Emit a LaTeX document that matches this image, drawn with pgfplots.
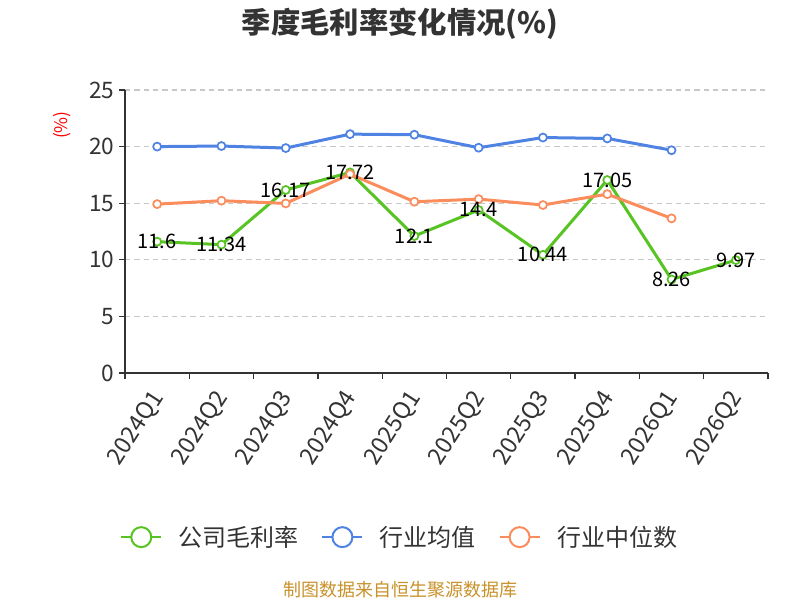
\documentclass[border=0pt]{standalone}
\usepackage{pgfplots}
\pgfplotsset{compat=1.18}
\usepackage{fontspec}
\setmainfont{Noto Sans CJK SC}
\definecolor{cgreen}{HTML}{58C424}
\definecolor{cblue}{HTML}{4F83E3}
\definecolor{corange}{HTML}{FB8C5C}
\definecolor{ctext}{HTML}{333333}
\definecolor{cgrid}{HTML}{C8C8C8}
\definecolor{csrc}{HTML}{C8912A}
\begin{document}
\begin{tikzpicture}
\begin{axis}[
  at={(93.75pt,170.25pt)}, anchor=south west,
  scale only axis, width=482.25pt, height=212.25pt,
  /pgf/number format/assume math mode=true,
  xmin=-0.5, xmax=9.5, ymin=0, ymax=25,
  axis x line*=bottom, axis y line*=left,
  axis line style={ctext, line width=1pt},
  ytick={0,5,10,15,20,25},
  xtick={0,...,9},
  xticklabels={2024Q1,2024Q2,2024Q3,2024Q4,2025Q1,2025Q2,2025Q3,2025Q4,2026Q1,2026Q2},
  minor xtick={-0.5,0.5,...,9.5},
  major x tick style={draw=none},
  x tick style={ctext, line width=1pt},
  y tick style={ctext, line width=1pt},
  tick align=outside,
  major tick length=4.5pt, minor tick length=4.5pt,
  ymajorgrids, grid style={cgrid, dashed, line width=0.8pt, dash pattern=on 4pt off 3pt},
  tick label style={font=\fontsize{17}{19}\selectfont, text=ctext},
  xticklabel style={rotate=57, anchor=east, yshift=-7pt, xshift=-5.3pt, font=\fontsize{17.5}{19}\selectfont},
  ylabel={(\%)},
  ylabel style={at={(axis description cs:-0.098,0.876)}, anchor=center, text=red, font=\fontsize{13}{15}\selectfont},
  title={\textbf{季度毛利率变化情况(\%)}},
  title style={at={(axis description cs:0.4277,1.24)}, anchor=center, yshift=-7.5pt, font=\fontsize{22}{26}\selectfont, text=ctext},
  legend columns=3,
  legend style={at={(axis description cs:0.4277,-0.58)}, anchor=center, draw=none, fill=none,
    font=\fontsize{18}{20}\selectfont, text=ctext,
    /tikz/every even column/.append style={column sep=15pt}},
  legend image code/.code={
    \draw[#1, line width=1.5pt] (0pt,0pt) -- (30pt,0pt);
    \draw[#1, line width=1.5pt, fill=white] (15pt,0pt) circle (7.5pt);
    \path (40pt,0pt);
  },
  every axis plot/.append style={line width=2.25pt, mark=*, mark size=3pt, mark options={fill=white, line width=1.3pt}},
  clip=false,
]
\addplot[cgreen] coordinates {(0,11.6)(1,11.34)(2,16.17)(3,17.72)(4,12.1)(5,14.4)(6,10.44)(7,17.05)(8,8.26)(9,9.97)};
\addlegendentry{公司毛利率}
\addplot[cblue] coordinates {(0,20.0)(1,20.05)(2,19.87)(3,21.1)(4,21.05)(5,19.9)(6,20.8)(7,20.72)(8,19.68)};
\addlegendentry{行业均值}
\addplot[corange] coordinates {(0,14.92)(1,15.22)(2,14.98)(3,17.57)(4,15.13)(5,15.36)(6,14.84)(7,15.8)(8,13.66)};
\addlegendentry{行业中位数}
\addplot[draw=none, mark=none, forget plot, nodes near coords, point meta=y,
  every node near coord/.append style={anchor=center, text=black, font=\fontsize{15}{16}\selectfont}]
  coordinates {(0,11.6)(1,11.34)(2,16.17)(3,17.72)(4,12.1)(5,14.4)(6,10.44)(7,17.05)(8,8.26)(9,9.97)};
\node[text=csrc, font=\fontsize{13.5}{15}\selectfont] at (axis description cs:0.4277,-0.767) {制图数据来自恒生聚源数据库};
\end{axis}
\pgfresetboundingbox
\useasboundingbox (0,0) rectangle (600pt,450pt);
\end{tikzpicture}
\end{document}
